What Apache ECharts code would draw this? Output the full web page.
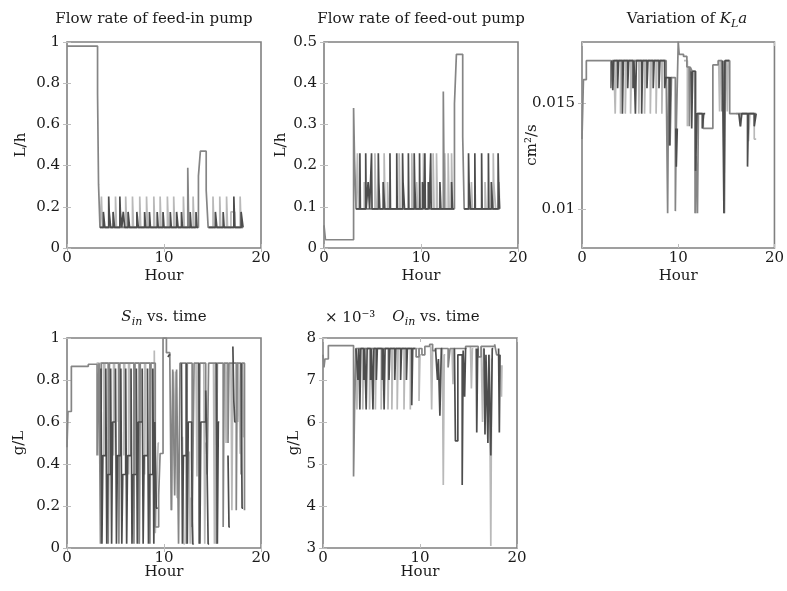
<!DOCTYPE html>
<html>
<head>
<meta charset="utf-8">
<script src="https://cdn.jsdelivr.net/npm/echarts@6/dist/echarts.min.js"></script>
<style>
  html, body { margin: 0; padding: 0; background: #fff; }
  #chart { width: 787px; height: 591px; }
</style>
</head>
<body>
<div id="chart"></div>
<script>
// step data: [hour, value], value holds until the next point

// flow rate of feed-in pump (L/h)
var fiMain = [[0,0.98],[3.15,0.75],[3.25,0.31],[3.4,0.1],[12.45,0.39],[12.55,0.1],[13.55,0.35],[13.75,0.47],[14.35,0.28],[14.55,0.1],[18.15,0.1]];
var fiLight = [[3.4,0.1],[3.55,0.25],[3.65,0.1],[5.0,0.25],[5.1,0.1],[6.05,0.25],[6.15,0.1],[6.75,0.25],[6.85,0.1],[7.5,0.25],[7.6,0.1],[8.2,0.25],[8.3,0.1],[8.95,0.25],[9.05,0.1],[9.6,0.25],[9.7,0.1],[10.35,0.25],[10.45,0.1],[11.0,0.25],[11.1,0.1],[12.0,0.25],[12.1,0.1],[13.0,0.25],[13.1,0.1],[13.2,null],[14.6,0.1],[15.05,0.25],[15.15,0.1],[15.75,0.25],[15.85,0.1],[16.45,0.25],[16.55,0.1],[16.9,0.175],[17.3,0.1],[17.85,0.25],[17.95,0.1],[18.15,0.1]];
var fiDark = [[3.4,0.1],[3.75,0.175],[3.9,0.1],[4.3,0.25],[4.35,0.175],[4.5,0.1],[4.75,0.175],[4.9,0.1],[5.45,0.25],[5.5,0.175],[5.65,0.1],[5.8,0.175],[5.95,0.1],[6.3,0.175],[6.45,0.1],[7.2,0.175],[7.35,0.1],[8.0,0.175],[8.1,0.1],[8.5,0.175],[8.6,0.1],[9.3,0.175],[9.4,0.1],[9.9,0.175],[10.0,0.1],[10.65,0.175],[10.75,0.1],[11.3,0.175],[11.45,0.1],[11.8,0.175],[11.9,0.1],[12.7,0.175],[12.8,0.1],[13.3,0.175],[13.4,0.1],[13.5,null],[14.6,0.1],[15.3,0.175],[15.45,0.1],[16.1,0.175],[16.2,0.1],[17.2,0.25],[17.3,0.1],[17.95,0.175],[18.15,0.1]];

// flow rate of feed-out pump (L/h)
var foMain = [[0,0.055],[0.15,0.02],[3.05,0.34],[3.15,0.215],[3.3,0.095],[12.3,0.38],[12.4,0.095],[13.45,0.35],[13.65,0.47],[14.3,0.27],[14.45,0.095],[18.1,0.095]];
var foLight = [[3.3,0.095],[3.45,0.23],[3.55,0.095],[4.15,0.16],[4.25,0.095],[5.25,0.23],[5.3,0.16],[5.4,0.095],[6.2,0.23],[6.3,0.095],[6.55,0.16],[6.65,0.095],[7.75,0.23],[7.85,0.095],[9.05,0.23],[9.15,0.095],[9.55,0.16],[9.65,0.095],[10.25,0.23],[10.35,0.095],[11.25,0.23],[11.35,0.095],[11.6,0.23],[11.7,0.095],[12.45,0.23],[12.55,0.095],[12.8,0.23],[12.9,0.095],[13.15,0.23],[13.25,0.095],[13.4,null],[14.45,0.095],[15.2,0.16],[15.3,0.095],[16.6,0.16],[16.7,0.095],[17.45,0.23],[17.5,0.16],[17.7,0.095],[18.05,0.16],[18.1,0.095]];
var foDark = [[3.3,0.095],[3.7,0.23],[3.75,0.095],[4.3,0.23],[4.35,0.095],[4.55,0.16],[4.7,0.095],[4.9,0.23],[4.95,0.095],[5.6,0.23],[5.65,0.16],[5.75,0.095],[6.1,0.16],[6.25,0.095],[6.8,0.23],[6.85,0.095],[7.5,0.23],[7.55,0.095],[8.1,0.23],[8.15,0.16],[8.3,0.095],[8.7,0.23],[8.75,0.095],[9.3,0.23],[9.35,0.16],[9.45,0.095],[9.85,0.23],[9.9,0.095],[10.15,0.16],[10.3,0.095],[10.4,0.23],[10.45,0.095],[10.75,0.16],[10.85,0.095],[11.0,0.23],[11.05,0.095],[11.95,0.16],[12.05,0.095],[13.15,0.16],[13.25,0.095],[13.4,null],[14.45,0.095],[14.9,0.23],[14.95,0.16],[15.1,0.095],[15.55,0.23],[15.6,0.095],[16.25,0.23],[16.3,0.095],[16.95,0.23],[17.0,0.095],[17.25,0.16],[17.4,0.095],[17.95,0.23],[18.0,0.16],[18.1,0.095]];

// variation of KLa (cm2/s)
var klTicks = [0.01, 0.015];
var klMain = [[0,0.0133],[0.15,0.0161],[0.45,0.017],[3.0,0.0157],[3.1,0.017],[8.75,0.0162],[8.9,0.0098],[9.0,0.0162],[9.15,0.013],[9.3,0.0162],[9.7,0.0099],[9.8,0.0138],[10.0,0.0179],[10.1,0.0173],[10.55,0.0172],[10.9,0.0167],[11.15,0.0139],[11.25,0.0167],[11.45,0.0165],[11.75,0.0098],[11.85,0.0125],[12.0,0.0098],[12.1,0.0145],[12.6,0.0138],[13.6,0.0168],[14.15,0.017],[14.55,0.0146],[14.65,0.017],[14.8,0.0098],[14.9,0.017],[15.35,0.0145],[18.1,0.0145]];
var klLight = [[3.3,0.017],[3.45,0.0145],[3.55,0.017],[4.0,0.0145],[4.1,0.017],[4.5,0.0145],[4.6,0.017],[5.05,0.0145],[5.15,0.017],[5.9,0.0145],[6.0,0.017],[6.5,0.0145],[6.6,0.017],[7.1,0.0145],[7.2,0.017],[7.7,0.0145],[7.8,0.017],[8.3,0.0145],[8.4,0.017],[8.75,null],[10.6,0.017],[10.95,0.0139],[11.05,0.0167],[11.3,null],[11.7,0.0165],[11.85,0.0098],[11.95,0.0145],[12.3,null],[14.2,0.017],[14.3,0.0146],[14.4,0.017],[14.5,null],[15.0,0.017],[15.1,0.0146],[15.2,0.017],[15.3,null],[16.0,0.0145],[16.5,0.0139],[16.6,0.0145],[17.3,0.0132],[17.45,0.0145],[17.9,0.0133],[18.1,0.0133]];
var klDark = [[3.1,0.017],[3.2,0.0156],[3.3,0.017],[3.7,0.0157],[3.8,0.017],[4.2,0.0145],[4.3,0.017],[4.75,0.0157],[4.85,0.017],[5.3,0.0157],[5.4,0.017],[5.55,0.0145],[5.65,0.017],[6.2,0.0145],[6.3,0.017],[6.75,0.0157],[6.85,0.017],[7.4,0.0157],[7.5,0.017],[8.0,0.0157],[8.1,0.017],[8.6,0.0157],[8.7,0.0162],[9.1,0.013],[9.2,0.0162],[9.3,null],[9.75,0.0138],[9.8,0.012],[9.9,0.0138],[9.95,null],[11.35,0.0165],[11.4,0.0138],[11.5,0.0165],[11.8,0.0118],[11.95,0.0145],[12.5,0.0138],[12.65,0.0145],[12.8,null],[14.6,0.017],[14.75,0.0098],[14.85,0.017],[15.3,null],[16.3,0.0145],[16.45,0.0139],[16.6,0.0145],[17.2,0.012],[17.3,0.0145],[17.9,0.0139],[18.1,0.0145]];

// S_in (g/L)
var siMain = [[0,0.48],[0.1,0.65],[0.45,0.865],[2.2,0.875],[3.1,0.44],[3.3,0.88],[3.45,0.02],[3.55,0.88],[4.25,0.02],[4.35,0.88],[5.35,0.02],[5.45,0.88],[6.9,0.02],[7.0,0.88],[7.45,0.02],[7.55,0.88],[8.55,0.02],[8.65,0.88],[9.1,0.1],[9.45,0.25],[9.6,0.45],[9.9,1.0],[10.25,0.93],[10.6,0.9],[10.75,0.18],[10.9,0.85],[11.1,0.25],[11.3,0.85],[11.5,0.02],[11.65,0.88],[12.3,0.02],[12.4,0.88],[12.9,0.1],[13.1,0.88],[13.6,0.02],[13.7,0.88],[14.3,0.75],[14.45,0.35],[14.6,0.88],[15.4,0.02],[15.5,0.88],[16.1,0.1],[16.2,0.88],[16.6,0.5],[16.7,0.88],[17.45,0.18],[17.55,0.88],[17.95,0.35],[18.05,0.88],[18.3,0.18]];
var siLight = [[3.05,0.88],[3.3,0.44],[3.4,0.88],[3.8,0.44],[3.9,0.88],[4.3,0.35],[4.4,0.88],[4.8,0.44],[4.9,0.88],[5.3,0.6],[5.4,0.88],[5.85,0.44],[5.95,0.88],[6.35,0.35],[6.45,0.88],[6.9,0.44],[7.0,0.88],[7.45,0.02],[7.55,0.88],[8.0,0.35],[8.1,0.88],[8.55,0.44],[8.65,0.88],[9.0,0.94],[9.1,0.07],[9.25,0.3],[9.4,0.5],[9.5,null],[10.7,0.5],[10.8,0.18],[10.95,0.84],[11.1,0.44],[11.2,0.84],[11.35,0.24],[11.45,null],[11.9,0.53],[12.05,0.02],[12.15,null],[12.6,0.46],[12.7,0.02],[12.8,0.24],[13.0,0.02],[13.1,null],[13.3,0.88],[13.4,0.34],[13.5,0.88],[13.55,null],[14.1,0.88],[14.2,0.02],[14.3,0.5],[14.4,null],[15.1,0.88],[15.2,0.02],[15.3,0.88],[15.45,null],[16.3,0.88],[16.4,0.5],[16.5,0.88],[16.55,null],[16.9,0.88],[17.0,0.18],[17.1,0.88],[17.6,0.6],[17.7,0.88],[17.85,0.45],[17.95,null],[18.1,0.88],[18.2,0.53],[18.3,null]];
var siDark = [[3.5,0.855],[3.6,0.02],[3.7,0.44],[4.0,0.855],[4.1,0.02],[4.2,0.35],[4.5,0.855],[4.6,0.02],[4.7,0.6],[5.0,0.855],[5.1,0.02],[5.2,0.44],[5.55,0.855],[5.65,0.02],[5.75,0.35],[6.05,0.855],[6.15,0.02],[6.25,0.44],[6.6,0.855],[6.7,0.02],[6.8,0.35],[7.15,0.855],[7.25,0.02],[7.35,0.6],[7.75,0.855],[7.85,0.02],[7.95,0.44],[8.3,0.855],[8.4,0.02],[8.5,0.35],[8.85,0.855],[8.95,0.02],[9.05,0.6],[9.2,0.19],[9.35,null],[10.4,0.91],[10.55,0.92],[10.65,null],[11.8,0.88],[11.9,0.02],[12.0,0.44],[12.3,0.88],[12.4,0.02],[12.5,0.6],[12.85,0.44],[12.95,0.02],[13.05,null],[13.6,0.88],[13.7,0.02],[13.8,0.6],[14.3,0.75],[14.45,0.35],[14.55,0.02],[14.65,null],[15.4,0.88],[15.5,0.02],[15.6,0.6],[15.7,null],[16.6,0.44],[16.7,0.1],[16.8,null],[17.1,0.96],[17.2,0.7],[17.3,0.6],[17.4,null],[17.95,0.88],[18.05,0.19],[18.15,null]];

// O_in (g/L, x 10^-3)
var oiMain = [[0,7.6],[0.1,7.3],[0.2,7.5],[0.55,7.82],[3.15,4.7],[3.25,6.25],[3.4,7.75],[9.6,7.55],[9.9,7.75],[10.2,7.6],[10.5,7.8],[11.0,7.85],[11.3,7.7],[11.6,7.75],[12.9,7.3],[13.1,7.75],[14.7,7.8],[16.0,7.55],[16.3,7.8],[17.7,7.85],[17.9,7.6],[18.2,7.6]];
var oiLight = [[3.4,7.75],[3.5,6.3],[3.6,7.75],[4.1,6.3],[4.2,7.75],[4.8,6.3],[4.9,7.75],[5.4,6.3],[5.5,7.75],[6.0,6.3],[6.1,7.75],[6.7,6.3],[6.8,7.75],[7.1,6.3],[7.2,7.75],[7.65,6.3],[7.75,7.75],[8.35,6.3],[8.45,7.75],[9.0,6.3],[9.1,7.75],[9.9,6.5],[10.0,7.6],[10.1,null],[11.1,7.8],[11.2,6.3],[11.3,7.7],[11.4,null],[12.3,7.75],[12.4,4.5],[12.5,7.6],[12.6,null],[13.3,7.75],[13.4,6.9],[13.5,7.75],[13.6,null],[15.2,7.8],[15.3,6.8],[15.4,7.75],[15.5,null],[16.3,7.8],[16.45,6.0],[16.55,7.75],[16.65,null],[17.15,7.6],[17.3,3.05],[17.4,7.5],[17.5,null],[18.35,7.35],[18.4,6.6],[18.45,7.35],[18.5,null]];
var oiDark = [[3.4,7.75],[3.6,7.0],[3.7,7.75],[3.8,6.3],[3.9,7.75],[4.2,7.0],[4.3,7.75],[4.45,6.3],[4.55,7.75],[4.9,7.0],[5.0,7.75],[5.15,6.3],[5.25,7.75],[5.5,7.0],[5.6,7.75],[6.1,7.0],[6.2,7.75],[6.3,6.3],[6.4,7.75],[6.8,7.0],[6.9,7.75],[7.4,7.0],[7.5,7.75],[8.0,7.0],[8.1,7.75],[8.6,7.0],[8.7,7.75],[9.15,6.4],[9.25,7.75],[9.5,null],[11.6,7.75],[11.8,7.0],[11.9,7.5],[12.05,6.15],[12.2,7.75],[12.3,null],[13.55,7.75],[13.65,5.55],[13.9,7.6],[14.35,4.5],[14.45,7.7],[14.6,6.6],[14.7,7.75],[14.8,null],[15.8,7.75],[15.85,5.75],[15.95,7.75],[16.0,null],[16.6,7.75],[16.7,5.7],[16.8,7.6],[17.0,5.5],[17.1,7.6],[17.3,5.2],[17.45,7.75],[17.55,null],[18.1,7.75],[18.18,5.75],[18.25,7.6],[18.3,null]];

var FONT = 'DejaVu Serif';
var TXT = '#1a1a1a';
var DARK = '#4d4d4d', MID = '#858585', LIGHT = '#b9b9b9';

var panels = [
    {left: 67, top: 42, width: 194, height: 206, min: 0, max: 1, interval: 0.2, name: 'L/h', nameGap: 38, hourGap: 21, lines: [fiLight, fiMain, fiDark]},
    {left: 324, top: 42, width: 194, height: 206, min: 0, max: 0.5, interval: 0.1, name: 'L/h', nameGap: 35, hourGap: 21, lines: [foLight, foMain, foDark]},
    {left: 582, top: 42, width: 195, height: 206, min: 0.00816, max: 0.01788, custom: klTicks, name: 'cm\u00b2/s', nameGap: 42, hourGap: 21, lines: [klLight, klMain, klDark]},
    {left: 67, top: 338, width: 194, height: 210, min: 0, max: 1, interval: 0.2, name: 'g/L', nameGap: 40, hourGap: 17, lines: [siLight, siMain, siDark]},
    {left: 323, top: 338, width: 194, height: 210, min: 3, max: 8, interval: 1, name: 'g/L', nameGap: 21, hourGap: 17, lines: [oiLight, oiMain, oiDark]}
];

var grids = [], xAxes = [], yAxes = [], series = [];
var lineColors = [LIGHT, MID, DARK];

panels.forEach(function (p, i) {
    grids.push({left: p.left, top: p.top, width: p.width, height: p.height, show: true,
        borderColor: '#808080', borderWidth: 1.6, backgroundColor: 'transparent'});

    var tick = {show: true, inside: true, length: 4, lineStyle: {color: '#bdbdbd', width: 1}};
    xAxes.push({
        type: 'value', gridIndex: i, min: 0, max: 20, interval: 10,
        axisLine: {show: false}, splitLine: {show: false}, axisTick: tick,
        axisLabel: {color: TXT, fontFamily: FONT, fontSize: 15, margin: 3},
        name: 'Hour', nameLocation: 'middle', nameGap: p.hourGap, nameMoveOverlap: false,
        nameTextStyle: {color: TXT, fontFamily: FONT, fontSize: 15}
    });
    xAxes.push({
        type: 'value', gridIndex: i, min: 0, max: 20, interval: 10, position: 'top',
        axisLine: {show: false}, splitLine: {show: false}, axisTick: tick, axisLabel: {show: false}
    });

    var yLeft = {
        type: 'value', gridIndex: i, min: p.min, max: p.max,
        axisLine: {show: false}, splitLine: {show: false}, axisTick: tick,
        axisLabel: {color: TXT, fontFamily: FONT, fontSize: 15, margin: 7},
        name: p.name, nameLocation: 'middle', nameGap: p.nameGap, nameRotate: 90, nameMoveOverlap: false,
        nameTextStyle: {color: TXT, fontFamily: FONT, fontSize: 15}
    };
    var yRight = {
        type: 'value', gridIndex: i, min: p.min, max: p.max, position: 'right',
        axisLine: {show: false}, splitLine: {show: false}, axisTick: tick, axisLabel: {show: false}
    };
    if (p.custom) {
        yLeft.axisLabel.customValues = p.custom;
        yLeft.axisTick = {show: true, inside: true, length: 4, lineStyle: {color: '#bdbdbd'}, customValues: p.custom};
        yRight.axisTick = {show: true, inside: true, length: 4, lineStyle: {color: '#bdbdbd'}, customValues: p.custom};
    } else {
        yLeft.interval = p.interval;
        yRight.interval = p.interval;
    }
    yAxes.push(yLeft, yRight);

    p.lines.forEach(function (d, k) {
        series.push({
            type: 'line', xAxisIndex: i * 2, yAxisIndex: i * 2, data: d,
            step: 'end', showSymbol: false, symbol: 'none', connectNulls: false,
            lineStyle: {color: lineColors[k], width: 1.7}, z: 2 + k,
            silent: true, animation: false
        });
    });
});

var richT = {
    n: {fontFamily: FONT, fontSize: 15, fill: TXT, lineHeight: 22},
    it: {fontFamily: FONT, fontSize: 15, fontStyle: 'italic', fill: TXT, lineHeight: 22},
    sub: {fontFamily: FONT, fontSize: 11, fontStyle: 'italic', fill: TXT, lineHeight: 11, verticalAlign: 'bottom'}
};
function title(x, y, text) {
    return {type: 'text', x: x, y: y, style: {text: text, align: 'center', verticalAlign: 'middle',
        font: '15px "DejaVu Serif"', fill: TXT, rich: richT}};
}

var chart = echarts.init(document.getElementById('chart'), null, {renderer: 'canvas'});
chart.setOption({
    animation: false,
    backgroundColor: '#fff',
    grid: grids,
    xAxis: xAxes,
    yAxis: yAxes,
    series: series,
    graphic: [
        title(154, 19, '{n|Flow rate of feed-in pump}'),
        title(421, 19, '{n|Flow rate of feed-out pump}'),
        title(687, 19, '{n|Variation of }{it|K}{sub|L}{it|a}'),
        title(164, 317, '{it|S}{sub|in}{n| vs. time}'),
        title(436, 317, '{it|O}{sub|in}{n| vs. time}'),
        {type: 'text', x: 325, y: 318, style: {text: '\u00d7 10\u207b\u00b3', align: 'left', verticalAlign: 'middle',
            font: '15px "DejaVu Serif"', fill: TXT}}
    ]
});
</script>
</body>
</html>
